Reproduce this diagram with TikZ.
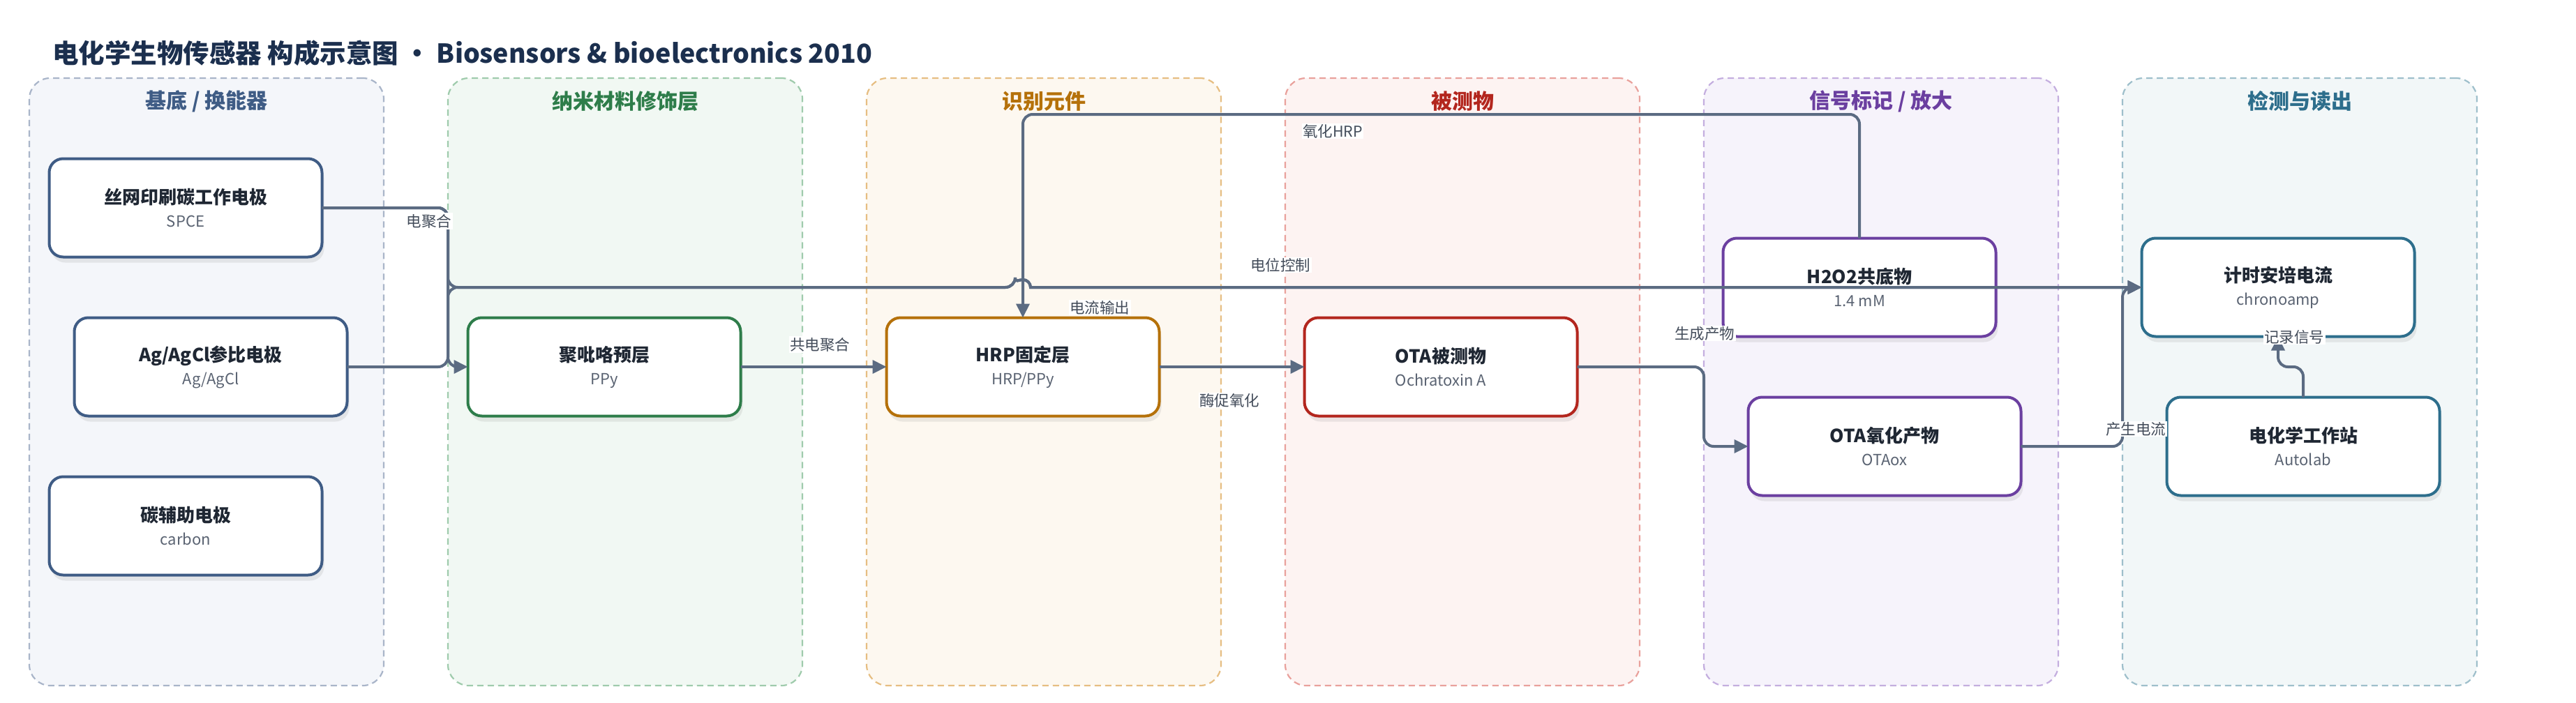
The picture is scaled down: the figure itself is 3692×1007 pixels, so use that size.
\documentclass[tikz,border=0pt]{standalone}
\usepackage{fontspec}
\setmainfont{Noto Sans CJK SC}
\usetikzlibrary{arrows.meta, calc, positioning, shadows}
\definecolor{TitleNavy}{HTML}{1B2F4E}
\definecolor{EdgeSlate}{HTML}{5B6B82}
\definecolor{TextDark}{HTML}{1F2733}
\definecolor{TextGray}{HTML}{5A6372}
\definecolor{LabelGray}{HTML}{434C5A}
\definecolor{BaseLine}{HTML}{3F5C85}
\definecolor{BaseDash}{HTML}{A9B5C9}
\definecolor{BaseFill}{HTML}{F4F6FA}
\definecolor{NanoLine}{HTML}{2E7D4A}
\definecolor{NanoDash}{HTML}{9FCBAC}
\definecolor{NanoFill}{HTML}{F1F8F3}
\definecolor{RecoLine}{HTML}{B5710A}
\definecolor{RecoDash}{HTML}{E6BE82}
\definecolor{RecoFill}{HTML}{FDF8F0}
\definecolor{AnalyteLine}{HTML}{B3261E}
\definecolor{AnalyteDash}{HTML}{E9A19C}
\definecolor{AnalyteFill}{HTML}{FDF3F2}
\definecolor{SignalLine}{HTML}{6B3FA0}
\definecolor{SignalDash}{HTML}{C4AEDF}
\definecolor{SignalFill}{HTML}{F6F3FB}
\definecolor{ReadLine}{HTML}{2D6E8C}
\definecolor{ReadDash}{HTML}{9EBFCB}
\definecolor{ReadFill}{HTML}{F2F7F8}

\begin{document}
\begin{tikzpicture}[x = 1pt, y = -1pt]%
    %
    \def\lanewidth{508pt}%
    \def\laneheight{871pt}%
    \def\lanegap{92pt}%
    \def\boxwidth{391pt}%
    \def\boxheight{141pt}%
    \def\boxtext#1#2{{\bfseries #1}\\[1pt]{\color{TextGray}\fontsize{22}{26}\selectfont #2}}%
    %
    \tikzstyle{lane} = [line width = 2.2pt, dash pattern = on 9pt off 6pt, rounded corners = 30pt, outer sep = 0pt, minimum width = \lanewidth, minimum height = \laneheight]%
    \tikzstyle{lanetitle} = [font = \fontsize{30}{36}\selectfont\bfseries]%
    \tikzstyle{box} = [draw, fill = white, line width = 4pt, rounded corners = 20pt, outer sep = 0pt, minimum width = \boxwidth, minimum height = \boxheight, align = center, text = TextDark, font = \fontsize{26}{32}\selectfont, drop shadow = {opacity = 0.15, shadow xshift = 3pt, shadow yshift = -8pt}]%
    \tikzstyle{edge} = [draw = EdgeSlate, line width = 4pt, rounded corners = 14pt, -{Triangle[length = 20pt, width = 19pt]}]%
    \tikzstyle{edgelabel} = [fill = white, inner sep = 1.5pt, text = LabelGray, font = \fontsize{21.5}{24}\selectfont]%
    %
    % Canvas
    \fill [white] (0, 0) rectangle (3692, 1007);%
    \useasboundingbox (0, 0) rectangle (3692, 1007);%
    %
    % Title
    \node (title) [anchor = west, inner sep = 0pt, text = TitleNavy, font = \fontsize{37.5}{44}\selectfont\bfseries] at (75, 76) {电化学生物传感器 构成示意图 • Biosensors \& bioelectronics 2010};%
    %
    % Lanes
    \node (lane1) [lane, draw = BaseDash, fill = BaseFill] at (296, 547.5) {};%
    \node (lane2) [lane, draw = NanoDash, fill = NanoFill, right = \lanegap of lane1] {};%
    \node (lane3) [lane, draw = RecoDash, fill = RecoFill, right = \lanegap of lane2] {};%
    \node (lane4) [lane, draw = AnalyteDash, fill = AnalyteFill, right = \lanegap of lane3] {};%
    \node (lane5) [lane, draw = SignalDash, fill = SignalFill, right = \lanegap of lane4] {};%
    \node (lane6) [lane, draw = ReadDash, fill = ReadFill, right = \lanegap of lane5] {};%
    %
    \node (title1) [lanetitle, text = BaseLine] at ($(lane1.north) + (0, 33)$) {基底 / 换能器};%
    \node (title2) [lanetitle, text = NanoLine] at ($(lane2.north) + (0, 33)$) {纳米材料修饰层};%
    \node (title3) [lanetitle, text = RecoLine] at ($(lane3.north) + (0, 33)$) {识别元件};%
    \node (title4) [lanetitle, text = AnalyteLine] at ($(lane4.north) + (0, 33)$) {被测物};%
    \node (title5) [lanetitle, text = SignalLine] at ($(lane5.north) + (0, 33)$) {信号标记 / 放大};%
    \node (title6) [lanetitle, text = ReadLine] at ($(lane6.north) + (0, 33)$) {检测与读出};%
    %
    % Electrodes
    \node (spce) [box, draw = BaseLine] at (266, 298) {\boxtext{丝网印刷碳工作电极}{SPCE}};%
    \node (ag) [box, draw = BaseLine, below = 87pt of spce, xshift = 36pt] {\boxtext{Ag/AgCl参比电极}{Ag/AgCl}};%
    \node (carbon) [box, draw = BaseLine, below = 87pt of ag, xshift = -36pt] {\boxtext{碳辅助电极}{carbon}};%
    %
    % Sensing layers
    \node (ppy) [box, draw = NanoLine, right = 173pt of ag] {\boxtext{聚吡咯预层}{PPy}};%
    \node (hrp) [box, draw = RecoLine, right = 209pt of ppy] {\boxtext{HRP固定层}{HRP/PPy}};%
    \node (ota) [box, draw = AnalyteLine, right = 208pt of hrp] {\boxtext{OTA被测物}{Ochratoxin A}};%
    %
    % Signal and readout
    \node (h2o2) [box, draw = SignalLine] at (2665, 412) {\boxtext{H2O2共底物}{1.4 mM}};%
    \node (oxo) [box, draw = SignalLine, below = 87pt of h2o2, xshift = 36pt] {\boxtext{OTA氧化产物}{OTAox}};%
    \node (chrono) [box, draw = ReadLine, right = 209pt of h2o2] {\boxtext{计时安培电流}{chronoamp}};%
    \node (station) [box, draw = ReadLine, below = 87pt of chrono, xshift = 36pt] {\boxtext{电化学工作站}{Autolab}};%
    %
    % Routing
    \coordinate (bus1) at (lane2.west);%
    \coordinate (bus5) at (lane5.west);%
    \coordinate (bus6) at (lane6.west);%
    \coordinate (topbus) at (0, 164);%
    \coordinate (hop) at (hrp.north |- chrono.west);%
    \coordinate (jog) at ($(chrono.south)!0.5!(station.north)$);%
    %
    % Edges
    \draw [edge] (spce.east) -- (spce.east -| bus1) -- (bus1 |- ppy.west) -- (ppy.west);%
    \draw [edge] (spce.east) -- (spce.east -| bus1) -- (bus1 |- chrono.west) -- ($(hop) + (-11, 0)$) [sharp corners] arc (180:360:11) -- (chrono.west);%
    \draw [edge] (ag.east) -- (ag.east -| bus1) -- (bus1 |- chrono.west) -- ($(hop) + (-11, 0)$) [sharp corners] arc (180:360:11) -- (chrono.west);%
    \draw [edge] (ppy.east) -- (hrp.west);%
    \draw [edge] (hrp.east) -- (ota.west);%
    \draw [edge] (h2o2.north) -- (h2o2.north |- topbus) -- (hrp.north |- topbus) -- (hrp.north);%
    \draw [edge] (ota.east) -- (ota.east -| bus5) -- (bus5 |- oxo.west) -- (oxo.west);%
    \draw [edge] (oxo.east) -- (oxo.east -| bus6) -- (bus6 |- chrono.west) -- (chrono.west);%
    \draw [edge] (station.north) -- (station.north |- jog) -- (chrono.south |- jog) -- (chrono.south);%
    %
    % Edge labels
    \node (lbl1) [edgelabel] at (615, 317) {电聚合};%
    \node (lbl2) [edgelabel] at (1576, 441) {电流输出};%
    \node (lbl3) [edgelabel] at (1835, 380) {电位控制};%
    \node (lbl4) [edgelabel] at (1175, 494) {共电聚合};%
    \node (lbl5) [edgelabel] at (1762, 574) {酶促氧化};%
    \node (lbl6) [edgelabel] at (1910, 188) {氧化HRP};%
    \node (lbl7) [edgelabel] at (2443, 478) {生成产物};%
    \node (lbl8) [edgelabel] at (3061, 615) {产生电流};%
    \node (lbl9) [edgelabel] at (3288, 483) {记录信号};%
    %
\end{tikzpicture}
\end{document}
